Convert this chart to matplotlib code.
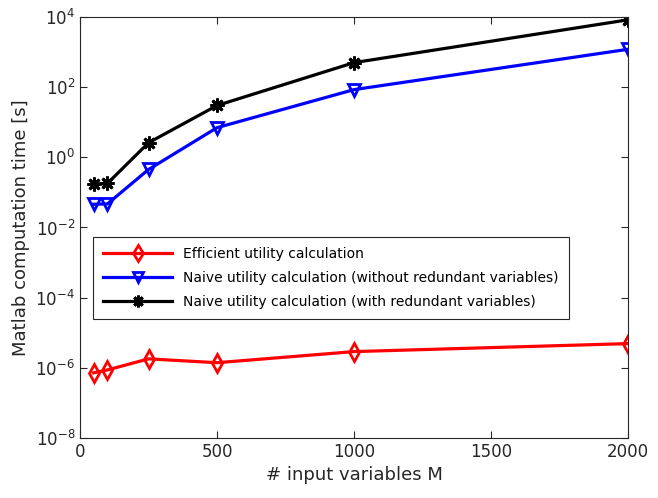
import matplotlib.pyplot as plt

# input variable counts and computation times (seconds)
M = [50, 100, 250, 500, 1000, 2000]
efficient = [7.2e-7, 8.7e-7, 1.8e-6, 1.4e-6, 2.9e-6, 4.9e-6]
naive_without = [0.046, 0.047, 0.45, 7.0, 85, 1200]
naive_with = [0.17, 0.18, 2.6, 30, 500, 8300]

labels = ['Efficient utility calculation',
          'Naive utility calculation (without redundant variables)',
          'Naive utility calculation (with redundant variables)']

fig = plt.figure(figsize=(6.58, 4.98), dpi=100)
ax = fig.add_axes([0.1216, 0.1205, 0.8328, 0.8454])

ax.plot(M, efficient, color='red', lw=2.3, marker='d', ms=9,
        mfc='none', mew=2, label=labels[0])
ax.plot(M, naive_without, color='blue', lw=2.3, marker='v', ms=9,
        mfc='none', mew=2, label=labels[1])
ax.plot(M, naive_with, color='black', lw=2.3, marker=(8, 2, 0), ms=10,
        mew=2, label=labels[2])

ax.set_yscale('log')
ax.set_xlim(0, 2000)
ax.set_ylim(1e-8, 1e4)
ax.set_xticks([0, 500, 1000, 1500, 2000])
ax.set_yticks([1e-8, 1e-6, 1e-4, 1e-2, 1e0, 1e2, 1e4])
ax.minorticks_off()
ax.tick_params(direction='in', top=True, right=True, labelsize=12,
               colors='#262626', length=5)
for s in ax.spines.values():
    s.set_color('#262626')
ax.set_xlabel('# input variables M', fontsize=13, color='#262626')
ax.set_ylabel('Matlab computation time [s]', fontsize=13, color='#262626')

leg = ax.legend(loc='upper left', bbox_to_anchor=(0.024, 0.477),
                fontsize=10, handlelength=5.0, fancybox=False,
                edgecolor='#262626', framealpha=1, borderaxespad=0,
                markerscale=0.85, labelspacing=0.72, borderpad=0.7)
leg.get_frame().set_linewidth(0.8)

fig.savefig('out.png', dpi=100)
